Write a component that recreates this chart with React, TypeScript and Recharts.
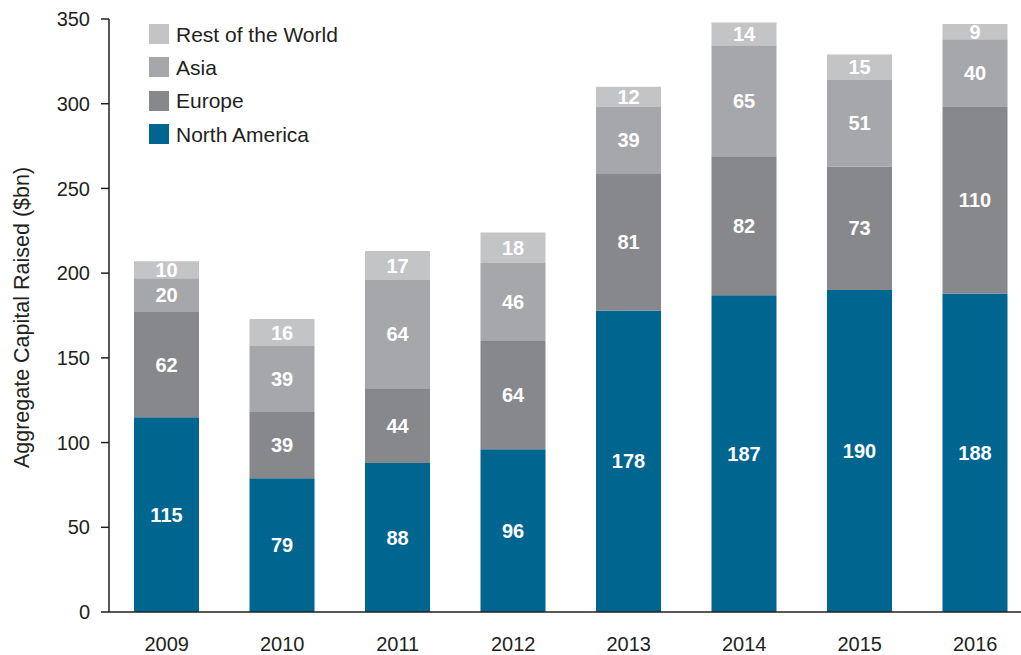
import React from 'react';
import { BarChart, Bar, XAxis, YAxis, LabelList } from 'recharts';

const years = ['2009', '2010', '2011', '2012', '2013', '2014', '2015', '2016'];
const northAmerica = [115, 79, 88, 96, 178, 187, 190, 188];
const europe = [62, 39, 44, 64, 81, 82, 73, 110];
const asia = [20, 39, 64, 46, 39, 65, 51, 40];
const restOfWorld = [10, 16, 17, 18, 12, 14, 15, 9];
const yTicks = [0, 50, 100, 150, 200, 250, 300, 350];

const COLORS = {
  na: '#00658f',
  eu: '#87888c',
  asia: '#a6a7aa',
  row: '#c3c4c6',
};

const data = years.map((y, i) => ({
  year: y,
  na: northAmerica[i],
  eu: europe[i],
  asia: asia[i],
  row: restOfWorld[i],
}));

const legendItems = [
  { label: 'Rest of the World', color: COLORS.row },
  { label: 'Asia', color: COLORS.asia },
  { label: 'Europe', color: COLORS.eu },
  { label: 'North America', color: COLORS.na },
];

const FONT = '"Liberation Sans", Arial, sans-serif';
const TEXT = '#231f20';

const labelStyle = { fill: '#ffffff', fontSize: 20, fontWeight: 700, fontFamily: FONT };

export default function App() {
  return (
    <div style={{ position: 'absolute', left: 0, top: 0, width: 1021, height: 655, overflow: 'hidden', background: '#fff' }}>
      <BarChart
        width={1040}
        height={655}
        data={data}
        margin={{ top: 19, right: 7, bottom: 0, left: 0 }}
        barSize={65}
      >
        <XAxis
          dataKey="year"
          height={43}
          tickLine={false}
          axisLine={{ stroke: TEXT, strokeWidth: 1.5 }}
          tick={{ fill: TEXT, fontSize: 20, fontFamily: FONT }}
          tickMargin={19}
        />
        <YAxis
          width={109}
          domain={[0, 350]}
          ticks={yTicks}
          interval={0}
          tickSize={8}
          tickMargin={11}
          axisLine={{ stroke: TEXT, strokeWidth: 1.5 }}
          tickLine={{ stroke: TEXT, strokeWidth: 1.5 }}
          tick={{ fill: TEXT, fontSize: 20, fontFamily: FONT }}
          label={{
            value: 'Aggregate Capital Raised ($bn)',
            angle: -90,
            position: 'insideLeft',
            offset: 0,
            dx: 21,
            dy: 2,
            style: { fill: TEXT, fontSize: 21.5, fontFamily: FONT, textAnchor: 'middle' },
          }}
        />
        <Bar dataKey="na" stackId="a" fill={COLORS.na} isAnimationActive={false}>
          <LabelList dataKey="na" position="center" style={labelStyle} />
        </Bar>
        <Bar dataKey="eu" stackId="a" fill={COLORS.eu} isAnimationActive={false}>
          <LabelList dataKey="eu" position="center" style={labelStyle} />
        </Bar>
        <Bar dataKey="asia" stackId="a" fill={COLORS.asia} isAnimationActive={false}>
          <LabelList dataKey="asia" position="center" style={labelStyle} />
        </Bar>
        <Bar dataKey="row" stackId="a" fill={COLORS.row} isAnimationActive={false}>
          <LabelList dataKey="row" position="center" style={labelStyle} />
        </Bar>
      </BarChart>
      <div
        style={{
          position: 'absolute',
          left: 149,
          top: 17.5,
          fontFamily: FONT,
          fontSize: 21,
          color: TEXT,
          lineHeight: 1,
        }}
      >
        {legendItems.map((it) => (
          <div key={it.label} style={{ display: 'flex', alignItems: 'center', height: 33.3 }}>
            <div style={{ width: 20, height: 20, background: it.color, marginRight: 7, flexShrink: 0 }} />
            <span>{it.label}</span>
          </div>
        ))}
      </div>
    </div>
  );
}
